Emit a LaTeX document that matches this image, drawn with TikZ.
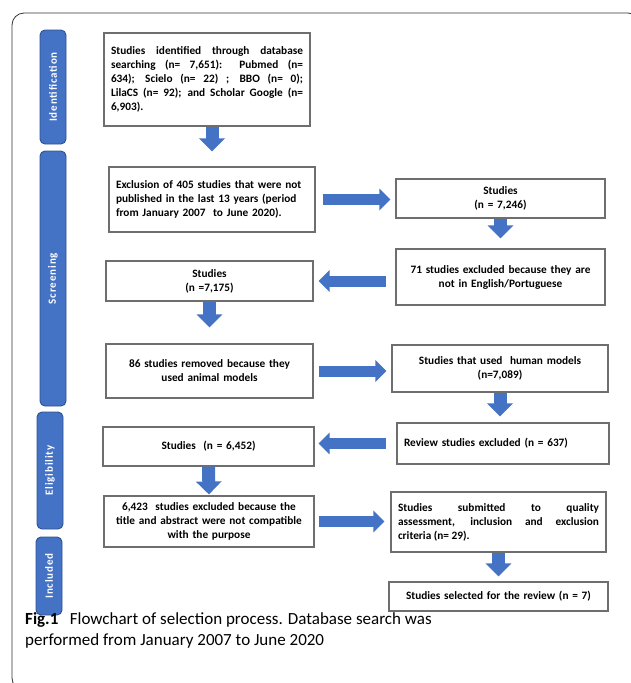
\documentclass[tikz,border=0pt]{standalone}
\usepackage{fontspec}
\setmainfont{Carlito}
\newfontfamily\barfont[LetterSpace=8]{Carlito}
\usetikzlibrary{arrows.meta}
\definecolor{stageblue}{HTML}{4472C4}
\definecolor{stageedge}{HTML}{2F528F}
\definecolor{boxedge}{HTML}{6E6E6E}

\begin{document}
\begin{tikzpicture}[x=1pt,y=-1pt,
    stage/.style={draw=stageedge, fill=stageblue, line width=0.9pt, rounded corners=5pt, rotate=90,
        minimum height=26pt, inner sep=0pt, text=white, font=\barfont\bfseries\fontsize{11}{13}\selectfont},
    box/.style={draw=boxedge, line width=1.1pt, fill=white, inner xsep=7pt, inner ysep=3pt,
        font=\bfseries\fontsize{11.3}{14}\selectfont},
    downarrow/.style={stageblue, line width=13pt, -{Triangle[width=25pt,length=13pt]}},
    sidearrow/.style={stageblue, line width=11pt, -{Triangle[width=21pt,length=11pt]}}]
    \useasboundingbox (0,0) rectangle (630,683);
    \draw[rounded corners=12pt, line width=0.8pt, draw=black!80] (12,13) rectangle (640,690);
    % stages
    \node[stage, minimum width=114pt] (ident) at (53,87) {Identification};
    \node[stage, minimum width=255pt] (screen) at (53,278.5) {Screening};
    \node[stage, minimum width=117pt] (elig) at (50,470.5) {Eligibility};
    \node[stage, minimum width=78pt] (incl) at (49,576) {Included};
    % boxes
    \node[box, text width=192pt, minimum height=93pt, align=justify] (found) at (207,79.5)
        {Studies identified through database\linebreak searching (n= 7,651): Pubmed (n=\linebreak 634); Scielo (n= 22) ; BBO (n= 0);\linebreak LilaCS (n= 92); and Scholar Google (n=\linebreak 6,903).};
    \node[box, text width=192pt, minimum height=65pt, align=left] (period) at (212,199.5)
        {Exclusion of 405 studies that were not\\published in the last 13 years (period\\from January 2007~ to June 2020).};
    \node[box, text width=195pt, minimum height=39pt, align=center] (s7246) at (500.5,198.5)
        {Studies\\(n = 7,246)};
    \node[box, text width=195pt, minimum height=56pt, align=center] (lang) at (500.5,277)
        {71 studies excluded because they are\\not in English/Portuguese\\[4pt]};
    \node[box, text width=193pt, minimum height=40pt, align=center] (s7175) at (209.5,281)
        {Studies\\(n =7,175)};
    \node[box, text width=193pt, minimum height=54pt, align=center] (animal) at (209.5,371)
        {86 studies removed because they\\used animal models\\[4pt]};
    \node[box, text width=202pt, minimum height=47pt, align=center] (human) at (500,368.5)
        {Studies that used~ human models\\(n=7,089)};
    \node[box, text width=198pt, minimum height=41pt, align=left] (review) at (503,443.5)
        {Review studies excluded (n = 637)\\[6pt]};
    \node[box, text width=197pt, minimum height=39pt, align=center] (s6452) at (208.5,446.5)
        {Studies~ (n = 6,452)\\[6pt]};
    \node[box, text width=196pt, minimum height=51pt, align=center] (title) at (209,521.5)
        {6,423~ studies excluded because the\\title and abstract were not compatible\\with the purpose};
    \node[box, text width=201pt, minimum height=60pt, align=justify] (quality) at (498.5,522)
        {Studies submitted to quality\linebreak assessment, inclusion and exclusion\linebreak criteria (n= 29).};
    \node[box, text width=205pt, minimum height=29pt, align=center] (selected) at (498.5,596.5)
        {Studies selected for the review (n = 7)};
    % arrows
    \draw[downarrow, shorten >=15pt] (found.south -| period.north) -- (period.north);
    \draw[sidearrow, shorten <=7pt, shorten >=5pt] (period.east) -- (period.east -| s7246.west);
    \draw[downarrow, shorten >=10pt] (s7246.south) -- (lang.north);
    \draw[sidearrow, shorten <=9pt, shorten >=5pt] (lang.west |- s7175.east) -- (s7175.east);
    \draw[downarrow, shorten >=16pt] (s7175.south) -- (animal.north);
    \draw[sidearrow, shorten <=5pt, shorten >=5pt] (animal.east) -- (animal.east -| human.west);
    \draw[downarrow, shorten >=6pt] (human.south) -- (human.south |- review.north);
    \draw[sidearrow, shorten <=10pt, shorten >=4pt] (review.west) -- (review.west -| s6452.east);
    \draw[downarrow, shorten >=1pt] (s6452.south) -- (title.north);
    \draw[sidearrow, shorten <=4pt, shorten >=6pt] (title.east) -- (title.east -| quality.west);
    \draw[downarrow, shorten >=5pt] (quality.south) -- (selected.north);
    % caption
    \node[anchor=base west, align=left, inner sep=0pt, font=\fontsize{17}{21}\selectfont] (caption) at (25,645)
        {\textbf{Fig.1}\hspace{0.45em} Flowchart of selection process. Database search was\\performed from January 2007 to June 2020};
\end{tikzpicture}
\end{document}
